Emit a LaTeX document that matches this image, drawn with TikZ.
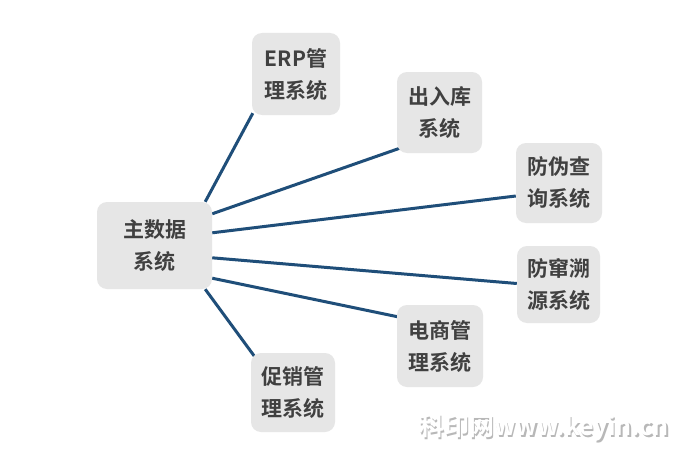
\documentclass[tikz,border=0pt]{standalone}
\usepackage{fontspec}
\setmainfont{Noto Sans CJK SC}
\newfontfamily\cjkbold{Noto Sans CJK SC Bold}
\usetikzlibrary{calc,backgrounds}
\definecolor{linkblue}{RGB}{31,78,121}
\definecolor{boxgray}{RGB}{230,230,230}
\definecolor{txtgray}{RGB}{64,64,64}
\tikzset{
  sysbox/.style={fill=boxgray, draw=none, rounded corners=10pt, align=center,
    font=\cjkbold\fontsize{21}{32}\selectfont, text=txtgray, inner sep=0pt},
  link/.style={draw=linkblue, line width=3pt}
}
\begin{document}
\begin{tikzpicture}[x=1pt,y=-1pt]
\useasboundingbox (0,0) rectangle (685,452);
\node[sysbox, minimum width=115pt, minimum height=87pt] (main) at (154.5,245.5) {主数据\\系统};
\node[sysbox, minimum width=88pt, minimum height=82pt] (erp) at (296,74) {ERP管\\理系统};
\node[sysbox, minimum width=85pt, minimum height=81pt] (crk) at (439.5,112.5) {出入库\\系统};
\node[sysbox, minimum width=86pt, minimum height=80pt] (fwcx) at (559,183) {防伪查\\询系统};
\node[sysbox, minimum width=83pt, minimum height=77pt] (fcsy) at (558.5,284.5) {防窜溯\\源系统};
\node[sysbox, minimum width=86pt, minimum height=82pt] (dsgl) at (440,346) {电商管\\理系统};
\node[sysbox, minimum width=84pt, minimum height=79pt] (cxgl) at (293,392.5) {促销管\\理系统};
\begin{pgfonlayer}{background}
\fill[white] (0,0) rectangle (685,452);
\draw[link] ($(main.north east)+(-7,0)$) -- ($(erp.south west)+(1,-2)$);
\draw[link] ($(main.north east)+(0,12)$) -- ($(crk.south west)+(3,-5)$);
\draw[link] ($(main.north east)+(0,31)$) -- ($(fwcx.west)+(0,13)$);
\draw[link] ($(main.north east)+(0,56)$) -- ($(fcsy.west)+(0,-1)$);
\draw[link] ($(main.south east)+(0,-11)$) -- ($(dsgl.north west)+(1,12)$);
\draw[link] ($(main.south east)+(-7,0)$) -- ($(cxgl.north west)+(4,4)$);
\end{pgfonlayer}
\node[font=\cjkbold\fontsize{25}{28}\selectfont, text=black!28, inner sep=0pt] (wms) at (545.5,429.5) {科印网www.keyin.cn};
\node[font=\cjkbold\fontsize{25}{28}\selectfont, text=white, inner sep=0pt] (wm) at (544,428) {科印网www.keyin.cn};
\end{tikzpicture}
\end{document}
